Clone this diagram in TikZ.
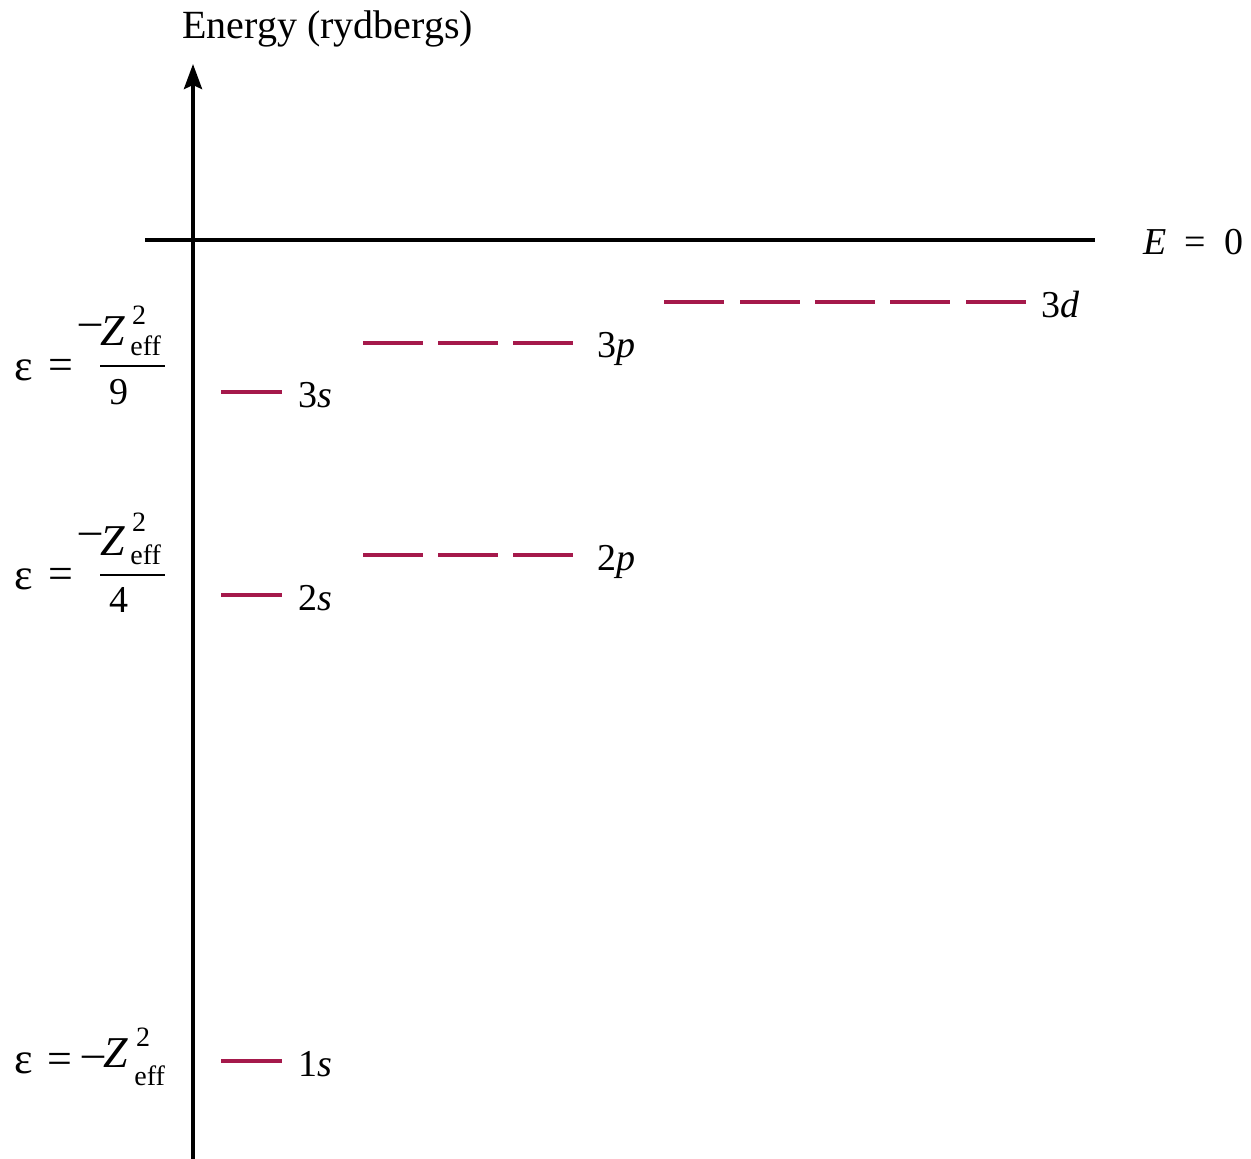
\documentclass[tikz,border=0pt]{standalone}
\usepackage{fontspec}
\setmainfont{Liberation Serif}
\usetikzlibrary{arrows.meta}
\definecolor{lvl}{RGB}{165,25,75}
\begin{document}
\begin{tikzpicture}[x=0.5pt,y=-0.5pt,
  txt/.style={inner sep=0pt, font=\fontsize{19}{22}\selectfont},
  fm/.style={inner sep=0pt, font=\fontsize{22}{26}\selectfont},
  dn/.style={inner sep=0pt, font=\fontsize{19}{22}\selectfont},
  big/.style={inner sep=0pt, font=\fontsize{20}{24}\selectfont},
  sm/.style={inner sep=0pt, font=\fontsize{14}{16}\selectfont},
  axis/.style={line width=2pt, draw=black},
  bar/.style={line width=1.4pt, draw=black},
  level/.style={line width=1.8pt, draw=lvl}]
\useasboundingbox (0,0) rectangle (1251,1159);
% axes
\coordinate (axbot) at (193,1159);
\coordinate (axtop) at (193,64);
\coordinate (hl) at (145,240);
\coordinate (hr) at (1095,240);
\draw[axis, -{Stealth[length=12.5pt,width=9pt,inset=2pt]}] (axbot) -- (axtop);
\draw[axis] (hl) -- (hr);
\node[big, anchor=base west] (title) at (182,39) {Energy (rydbergs)};
\node[txt, anchor=base west] (ezero) at (1143,255) {\textit{E}\hspace{9pt}=\hspace{9pt}0};
% levels
\draw[level] (221,392) -- (282,392);
\draw[level] (221,595) -- (282,595);
\draw[level] (221,1061) -- (282,1061);
\foreach \x in {363,438,513} {
  \draw[level] (\x,343) -- ++(60,0);
  \draw[level] (\x,555) -- ++(60,0);
}
\foreach \x in {664,740,815,890,966}
  \draw[level] (\x,302) -- ++(60,0);
\node[txt, anchor=base west] (l3s) at (298,408) {3\textit{s}};
\node[txt, anchor=base west] (l2s) at (298,610) {2\textit{s}};
\node[txt, anchor=base west] (l1s) at (298,1076) {1\textit{s}};
\node[txt, anchor=base west] (l3p) at (597,358) {3\textit{p}};
\node[txt, anchor=base west] (l2p) at (597,570) {2\textit{p}};
\node[txt, anchor=base west] (l3d) at (1041,318) {3\textit{d}};
% formula 3s (bar at 366)
\node[fm] (e3) at (24,370) {ε};
\node[fm] (q3) at (61,369) {=};
\node[fm] (m3) at (90,330) {–};
\node[fm, anchor=base west] (z3) at (100,346) {\textit{Z}};
\node[sm] (s3) at (139,315) {2};
\node[sm, anchor=base west] (f3) at (130,356) {eff};
\draw[bar] (100,366) -- (165,366);
\node[dn, anchor=base] (d3) at (119,405) {9};
% formula 2s (bar at 575)
\node[fm] (e2) at (24,579) {ε};
\node[fm] (q2) at (61,578) {=};
\node[fm] (m2) at (90,539) {–};
\node[fm, anchor=base west] (z2) at (100,555) {\textit{Z}};
\node[sm] (s2) at (139,522) {2};
\node[sm, anchor=base west] (f2) at (130,565) {eff};
\draw[bar] (100,575) -- (165,575);
\node[dn, anchor=base] (d2) at (119,612) {4};
% formula 1s
\node[fm] (e1) at (24,1063) {ε};
\node[fm] (q1) at (60,1063) {=};
\node[fm] (m1) at (93,1062) {–};
\node[fm, anchor=base west] (z1) at (103,1067) {\textit{Z}};
\node[sm] (s1) at (143,1037) {2};
\node[sm, anchor=base west] (f1) at (134,1085) {eff};
\end{tikzpicture}
\end{document}
